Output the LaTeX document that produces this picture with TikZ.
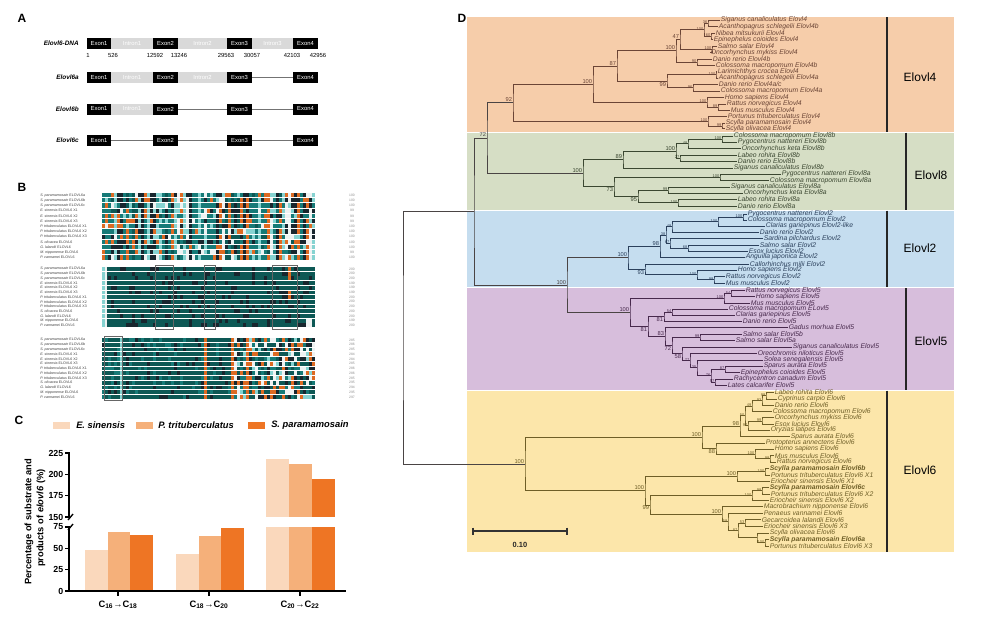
\documentclass[tikz,border=0pt]{standalone}
\usepackage{fontspec}
\setmainfont{Liberation Sans}
\usetikzlibrary{calc}
\definecolor{bOr}{HTML}{F6CDAA}
\definecolor{bGr}{HTML}{D6DEC5}
\definecolor{bBl}{HTML}{C5DDEF}
\definecolor{bPu}{HTML}{D7BEDC}
\definecolor{bYe}{HTML}{FCE6AA}
\definecolor{c4}{HTML}{6B4536}
\definecolor{c8}{HTML}{3B4731}
\definecolor{c2}{HTML}{2B405C}
\definecolor{c5}{HTML}{47294C}
\definecolor{c6}{HTML}{6E5E27}
\definecolor{cR}{HTML}{4A4444}
\definecolor{cE}{HTML}{FAD8BC}
\definecolor{cP}{HTML}{F5B07A}
\definecolor{cS}{HTML}{EE7524}
\definecolor{alT}{HTML}{167A77}
\definecolor{alK}{HTML}{18262E}
\definecolor{alC}{HTML}{86D3D1}
\definecolor{alO}{HTML}{DD6A22}
\definecolor{alW}{HTML}{EEF2F2}
\definecolor{alD}{HTML}{0D5855}
\definecolor{intr}{HTML}{D9D9D9}
\newcommand\tleaf[4]{\coordinate (#1) at (#2,#3);\node[leaftxt,text=\clr] (#1t) at (#1) {#4};}
\newcommand\tnode[6][south east]{%
  \path let \p1=(#4), \p2=(#5) in coordinate (#2) at ({#3*0.75pt},{0.5*(\y1)+0.5*(\y2)});%
  \draw[tedge,draw=\clr] (#4) -| (#2) |- (#5);%
  \node[bsN,text=\clr,anchor=#1] (#2l) at (#2) {#6};}
\newcommand\tnodes[6][east]{%
  \path let \p1=(#4), \p2=(#5) in coordinate (#2) at ({#3*0.75pt},{0.5*(\y1)+0.5*(\y2)});%
  \draw[tedge,draw=\clr] (#4) -| (#2) |- (#5);%
  \node[bsS,text=\clr,anchor=#1] (#2l) at (#2) {#6};}
\def\clr{cR}
\begin{document}
\begin{tikzpicture}[x=0.75pt,y=-0.75pt,
  leaftxt/.style={anchor=west,inner sep=0.45pt,font=\fontsize{5.1}{5.1}\selectfont\itshape},
  bsN/.style={inner sep=0.5pt,font=\fontsize{4.3}{4.3}\selectfont},
  bsS/.style={inner sep=0.35pt,yshift=0.6pt,font=\fontsize{3}{3}\selectfont},
  tedge/.style={line width=0.6pt},
  cbar/.style={line width=1.5pt,draw=black!85},
  clab/.style={font=\fontsize{9}{9}\selectfont},
  plet/.style={font=\fontsize{9}{9}\selectfont\bfseries},
  exon/.style={fill=black,text=white,inner sep=0,outer sep=0,minimum height=8.25pt,font=\fontsize{4.4}{4.4}\selectfont},
  intron/.style={fill=intr,text=white,inner sep=0,outer sep=0,minimum height=8.25pt,font=\fontsize{4.4}{4.4}\selectfont},
  ex1/.style={exon,minimum width=18pt},
  ex/.style={exon,minimum width=18.75pt},
  in1/.style={intron,minimum width=31.5pt},
  in2/.style={intron,minimum width=36.75pt},
  in3/.style={intron,minimum width=30.75pt},
  skip/.style={draw=black!55,line width=0.6pt},
  rowlab/.style={anchor=east,inner sep=0,font=\fontsize{4.8}{4.8}\selectfont\bfseries\itshape},
  numl/.style={inner sep=0,font=\fontsize{4.4}{4.4}\selectfont},
  bname/.style={anchor=west,inner sep=0,text=black!75,font=\fontsize{2.7}{2.7}\selectfont},
  bnum/.style={inner sep=0,text=black!45,font=\fontsize{2.5}{2.5}\selectfont},
  bbox/.style={draw=black!60,line width=0.45pt},
  legt/.style={anchor=west,inner sep=0,font=\fontsize{7}{7}\selectfont\bfseries\itshape},
  axis/.style={line width=1.1pt,line cap=rect},
  tick/.style={anchor=east,inner sep=0,font=\fontsize{6.6}{6.6}\selectfont\bfseries},
  ytit/.style={rotate=90,inner sep=0,font=\fontsize{7}{7}\selectfont\bfseries},
  xlab/.style={inner sep=0,font=\fontsize{7}{7}\selectfont\bfseries}]
\useasboundingbox (0,0) rectangle (1000,618);
\fill[white] (0,0) rectangle (1000,618);
% ---------------- Panel A
\node[plet] (pA) at (22,18) {A};
\node[rowlab] (lD) at (79,43.5) {Elovl6-DNA};
\node[rowlab] (la) at (79,77.5) {Elovl6a};
\node[rowlab] (lb) at (79,109) {Elovl6b};
\node[rowlab] (lc) at (79,140.5) {Elovl6c};
\node[ex1] (xd1) at (99,43.5) {Exon1};
\node[in1] (xdi1) at (132,43.5) {Intron1};
\node[ex] (xd2) at (165.5,43.5) {Exon2};
\node[in2] (xdi2) at (202.5,43.5) {Intron2};
\node[ex] (xd3) at (239.5,43.5) {Exon3};
\node[in3] (xdi3) at (272.5,43.5) {Intron3};
\node[ex] (xd4) at (305.5,43.5) {Exon4};
\foreach \x/\t [count=\i] in {88/1,113/526,155/12592,179/13246,226/29563,252/30057,292/42103,318/42956}
  \node[numl] (nm\i) at (\x,55.5) {\t};
\node[ex1] (xa1) at (99,77.5) {Exon1};
\node[in1] (xai1) at (132,77.5) {Intron1};
\node[ex] (xa2) at (165.5,77.5) {Exon2};
\node[in2] (xai2) at (202.5,77.5) {Intron2};
\node[ex] (xa3) at (239.5,77.5) {Exon3};
\node[ex] (xa4) at (305.5,77.5) {Exon4};
\draw[skip] (xa3) -- (xa4);
\node[ex1] (xb1) at (99,109) {Exon1};
\node[in1] (xbi1) at (132,109) {Intron1};
\node[ex] (xb2) at (165.5,109) {Exon2};
\node[ex] (xb3) at (239.5,109) {Exon3};
\node[ex] (xb4) at (305.5,109) {Exon4};
\draw[skip] (xb2) -- (xb3);
\draw[skip] (xb3) -- (xb4);
\node[ex1] (xc1) at (99,140.5) {Exon1};
\node[ex] (xc2) at (165.5,140.5) {Exon2};
\node[ex] (xc3) at (239.5,140.5) {Exon3};
\node[ex] (xc4) at (305.5,140.5) {Exon4};
\draw[skip] (xc1) -- (xc2);
\draw[skip] (xc2) -- (xc3);
\draw[skip] (xc3) -- (xc4);
% ---------------- Panel B
\node[plet] (pB) at (22,187) {B};
\foreach \ri/\nm in {0/{\textit{S. paramamosain} ELOVL6a},1/{\textit{S. paramamosain} ELOVL6b},2/{\textit{S. paramamosain} ELOVL6c},3/{\textit{E. sinensis} ELOVL6 X1},4/{\textit{E. sinensis} ELOVL6 X2},5/{\textit{E. sinensis} ELOVL6 X3},6/{\textit{P. trituberculatus} ELOVL6 X1},7/{\textit{P. trituberculatus} ELOVL6 X2},8/{\textit{P. trituberculatus} ELOVL6 X3},9/{\textit{S. olivacea} ELOVL6},10/{\textit{G. lalandii} ELOVL6},11/{\textit{M. nipponense} ELOVL6},12/{\textit{P. vannamei} ELOVL6}}{
  \node[bname] (bnA\ri) at (40,{195.1+5.2*\ri}) {\nm};
  \node[bname] (bnB\ri) at (40,{268.9+4.7*\ri}) {\nm};
  \node[bname] (bnC\ri) at (40,{339.9+4.75*\ri}) {\nm};
}
\foreach \ri/\va/\vb/\vc in {0/100/200/285,1/100/200/286,2/100/200/285,3/99/199/284,4/99/199/284,5/99/199/285,6/100/200/286,7/100/200/286,8/100/200/285,9/100/200/295,10/100/200/294,11/99/199/295,12/100/200/297}{
  \node[bnum] (bmA\ri) at (352,{195.1+5.2*\ri}) {\va};
  \node[bnum] (bmB\ri) at (352,{268.9+4.7*\ri}) {\vb};
  \node[bnum] (bmC\ri) at (352,{339.9+4.75*\ri}) {\vc};
}
\pgfmathsetseed{42}
% block 1
\foreach \ci in {0,...,70}{%
  \pgfmathrandominteger{\ct}{0}{19}%
  \foreach \ri in {0,...,12}{%
    \pgfmathrandominteger{\rn}{0}{9}%
    \ifnum\rn<6 \edef\kk{\ct}\else\pgfmathrandominteger{\kk}{0}{19}\fi
    \edef\acol{\ifcase\kk alT\or alT\or alT\or alT\or alT\or alK\or alK\or alK\or alK\or alC\or alC\or alC\or alO\or alO\or alO\or alO\or alW\or alW\or alD\or alD\else alT\fi}%
    \fill[fill=\acol] ({102+3*\ci},{193+5.2*\ri}) rectangle +(3,4.2);%
  }%
}
% block 2
\foreach \ri in {0,...,12}{\fill[alD] (102,{267+4.7*\ri}) rectangle +(213,3.8);}
\foreach \ci in {2,...,70}{\foreach \ri in {0,...,12}{%
   \pgfmathrandominteger{\rn}{0}{9}%
   \ifnum\rn<2 \fill[alK] ({102+3*\ci},{267+4.7*\ri}) rectangle +(3,3.8);\fi}}
\foreach \ri in {0,...,12}{\fill[alC] (102,{267+4.7*\ri}) rectangle +(3,3.8);\fill[alW] (105,{267+4.7*\ri}) rectangle +(2,3.8);}
\foreach \ri in {0,1,2,5,6}{\fill[alO] (288,{267+4.7*\ri}) rectangle +(3,3.8);}
\foreach \ri in {11,12}{\fill[alW] (306,{267+4.7*\ri}) rectangle +(6,3.8);}
\draw[bbox] (155,265.5) rectangle (173,329);
\draw[bbox] (204,265.5) rectangle (215,329);
\draw[bbox] (272,265.5) rectangle (297,329);
% block 3
\foreach \ci in {0,...,70}{%
  \foreach \ri in {0,...,12}{%
    \pgfmathrandominteger{\rn}{0}{19}%
    \ifnum\ci<43
       \ifnum\ci=34 \def\acol{alO}\else
       \ifnum\ci=6 \def\acol{alC}\else
       \ifnum\rn<15 \def\acol{alD}\else\ifnum\rn<18 \def\acol{alT}\else\def\acol{alK}\fi\fi\fi\fi
    \else
       \ifnum\ci=43 \def\acol{alO}\else\ifnum\ci=48 \def\acol{alO}\else
       \edef\acol{\ifcase\rn alD\or alD\or alD\or alD\or alT\or alT\or alO\or alO\or alO\or alK\or alK\or alK\or alC\or alC\or alW\or alW\or alW\or alD\or alO\or alT\else alD\fi}\fi\fi
    \fi
    \fill[fill=\acol] ({102+3*\ci},{338+4.75*\ri}) rectangle +(3,3.8);%
  }%
}
\draw[bbox] (104,336.5) rectangle (122,400);
% ---------------- Panel C
\node[plet] (pC) at (19,420) {C};
\fill[cE] (53,421.5) rectangle (70,428.5);
\node[legt] (lgE) at (76,425) {E. sinensis};
\fill[cP] (136,421.5) rectangle (153,428.5);
\node[legt] (lgP) at (158,425) {P. trituberculatus};
\fill[cS] (248,421.5) rectangle (265,428.5);
\node[legt] (lgS) at (271,425) {S. paramamosain};
\fill[cE] (85,591) rectangle (107.5,550);
\fill[cP] (107.5,591) rectangle (130,532.1);
\fill[cS] (130,591) rectangle (153,534.7);
\fill[cE] (176,591) rectangle (198.5,554.3);
\fill[cP] (198.5,591) rectangle (221,536.4);
\fill[cS] (221,591) rectangle (243.5,527.9);
\fill[cE] (266,591) rectangle (289,527);
\fill[cP] (289,591) rectangle (312,527);
\fill[cS] (312,591) rectangle (334.5,527);
\fill[cE] (266,517) rectangle (289,459);
\fill[cP] (289,517) rectangle (312,464.1);
\fill[cS] (312,517) rectangle (334.5,478.6);
\draw[axis] (69,591) -- (69,527);
\draw[axis] (69,517) -- (69,453);
\draw[line width=1pt] (68,520) -- (73,514);
\draw[line width=1pt] (68,530) -- (73,524);
\foreach \v/\yy in {0/591,25/569.7,50/548.3,75/527,150/517,175/495.7,200/474.3,225/453}{
  \draw[axis] (69,\yy) -- (65.5,\yy);
  \node[tick] (tk\v) at (63.5,\yy) {\v};
}
\draw[axis] (69,591) -- (345,591);
\foreach \x in {118,209,300} \draw[axis] (\x,591) -- (\x,595);
\node[xlab] (xl1) at (118,605) {C\textsubscript{16}→C\textsubscript{18}};
\node[xlab] (xl2) at (209,605) {C\textsubscript{18}→C\textsubscript{20}};
\node[xlab] (xl3) at (300,605) {C\textsubscript{20}→C\textsubscript{22}};
\node[ytit] (yt1) at (29,522) {Percentage of substrate and};
\node[ytit] (yt2) at (41,518) {products of \textit{elovl6} (\%)};
% ---------------- Panel D
\node[plet] (pD) at (462,18) {D};
\fill[bOr] (467,17) rectangle (954,131.5);
\fill[bGr] (467,132.5) rectangle (954,209.5);
\fill[bBl] (467,210.5) rectangle (954,287);
\fill[bPu] (467,288) rectangle (954,389.5);
\fill[bYe] (467,390.5) rectangle (954,552);
\draw[cbar] (887,17) -- (887,131.5);
\draw[cbar] (906,132.5) -- (906,209.5);
\draw[cbar] (887,210.5) -- (887,287);
\draw[cbar] (906,288) -- (906,389.5);
\draw[cbar] (887,390.5) -- (887,552);
\node[clab] (L4) at (920,77) {Elovl4};
\node[clab] (L8) at (931,175) {Elovl8};
\node[clab] (L2) at (920,248) {Elovl2};
\node[clab] (L5) at (931,341) {Elovl5};
\node[clab] (L6) at (920,470) {Elovl6};
% Elovl4
\def\clr{c4}
\tleaf{a1}{720}{20}{Siganus canaliculatus Elovl4}
\tleaf{a2}{718}{26.5}{Acanthopagrus schlegelii Elovl4b}
\tleaf{a3}{715}{33}{Nibea mitsukurii Elovl4}
\tleaf{a4}{713}{39.5}{Epinephelus coioides Elovl4}
\tleaf{a5}{717}{46}{Salmo salar Elovl4}
\tleaf{a6}{710}{52.5}{Oncorhynchus mykiss Elovl4}
\tleaf{a7}{712}{59}{Danio rerio Elovl4b}
\tleaf{a8}{715}{65.5}{Colossoma macropomum Elovl4b}
\tleaf{a9}{717}{71.5}{Larimichthys crocea Elovl4}
\tleaf{a10}{718}{78}{Acanthopagrus schlegelii Elovl4a}
\tleaf{a11}{718}{84.5}{Danio rerio Elovl4a/c}
\tleaf{a12}{720}{91}{Colossoma macropomum Elovl4a}
\tleaf{a13}{724}{97.5}{Homo sapiens Elovl4}
\tleaf{a14}{726}{104}{Rattus norvegicus Elovl4}
\tleaf{a15}{730}{110}{Mus musculus Elovl4}
\tleaf{a16}{727}{116.5}{Portunus trituberculatus Elovl4}
\tleaf{a17}{725}{123}{Scylla paramamosain Elovl4}
\tleaf{a18}{725}{128.8}{Scylla olivacea Elovl4}
\tnodes{b1}{708}{a1}{a2}{36}
\tnodes{b2}{711}{a3}{a4}{60}
\tnodes{b3}{704}{b1}{b2}{100}
\tnodes{b4}{712}{a5}{a6}{100}
\tnode{b5}{680}{b3}{b4}{47}
\tnodes{b6}{697}{a7}{a8}{90}
\tnode{b7}{676}{b5}{b6}{100}
\tnodes{b8}{716}{a9}{a10}{100}
\tnodes{b9}{693}{a11}{a12}{96}
\tnode[north east]{b10}{667}{b8}{b9}{99}
\tnode{b11}{617}{b7}{b10}{87}
\tnodes{b12}{718}{a14}{a15}{89}
\tnodes{b13}{707}{a13}{b12}{100}
\tnode{b14}{593}{b11}{b13}{100}
\tnodes{b15}{722}{a17}{a18}{99}
\tnodes{b16}{708}{a16}{b15}{100}
\tnode{b17}{513}{b14}{b16}{92}
% Elovl8
\def\clr{c8}
\tleaf{g1}{733}{136}{Colossoma macropomum Elovl8b}
\tleaf{g2}{737}{142}{Pygocentrus nattereri Elovl8b}
\tleaf{g3}{741}{148.5}{Oncorhynchus keta Elovl8b}
\tleaf{g4}{737}{155}{Labeo rohita Elovl8b}
\tleaf{g5}{737}{161.5}{Danio rerio Elovl8b}
\tleaf{g6}{733}{168}{Siganus canaliculatus Elovl8b}
\tleaf{g7}{781}{174}{Pygocentrus nattereri Elovl8a}
\tleaf{g8}{769}{180.5}{Colossoma macropomum Elovl8a}
\tleaf{g9}{730}{187}{Siganus canaliculatus Elovl8a}
\tleaf{g10}{743}{193}{Oncorhynchus keta Elovl8a}
\tleaf{g11}{737}{199.5}{Labeo rohita Elovl8a}
\tleaf{g12}{737}{206}{Danio rerio Elovl8a}
\tnodes{h1}{722}{g1}{g2}{100}
\tnodes{h2}{688}{h1}{g3}{48}
\tnodes{h3}{680}{g4}{g5}{27}
\tnode{h4}{676}{h2}{h3}{100}
\tnode{h5}{623}{h4}{g6}{89}
\tnodes{h6}{720}{g7}{g8}{100}
\tnodes{h7}{668}{g9}{g10}{99}
\tnodes{h8}{678}{g11}{g12}{100}
\tnode[north east]{h9}{638}{h7}{h8}{95}
\tnode[north east]{h10}{614}{h6}{h9}{73}
\tnode{h11}{583}{h5}{h10}{100}
% Elovl2
\def\clr{c2}
\tleaf{k1}{747}{214}{Pygocentrus nattereri Elovl2}
\tleaf{k2}{747}{220}{Colossoma macropomum Elovl2}
\tleaf{k3}{765}{226}{Clarias gariepinus Elovl2-like}
\tleaf{k4}{759}{232}{Danio rerio Elovl2}
\tleaf{k5}{763}{238.5}{Sardina pilchardus Elovl2}
\tleaf{k6}{759}{245}{Salmo salar Elovl2}
\tleaf{k7}{748}{251}{Esox lucius Elovl2}
\tleaf{k8}{745}{257}{Anguilla japonica Elovl2}
\tleaf{k9}{749}{264}{Callorhinchus milii Elovl2}
\tleaf{k10}{737}{270}{Homo sapiens Elovl2}
\tleaf{k11}{725}{276.5}{Rattus norvegicus Elovl2}
\tleaf{k12}{725}{283}{Mus musculus Elovl2}
\tnodes{m1}{743}{k1}{k2}{100}
\tnodes{m2}{718}{m1}{k3}{100}
\tnodes{m3}{672}{m2}{k4}{49}
\tnodes{m4}{688}{k6}{k7}{68}
\tnodes{m5}{670}{k5}{m4}{67}
\tnodes{m6}{666}{m3}{m5}{38}
\tnode{m7}{660}{m6}{k8}{98}
\tnodes{m8}{714}{k11}{k12}{99}
\tnodes{m9}{697}{k10}{m8}{100}
\tnode[north east]{m10}{645}{k9}{m9}{93}
\tnode{m11}{628}{m7}{m10}{100}
% Elovl5
\def\clr{c5}
\tleaf{p1}{745}{290.5}{Rattus norvegicus Elovl5}
\tleaf{p2}{755}{296.5}{Homo sapiens Elovl5}
\tleaf{p3}{750}{303}{Mus musculus Elovl5}
\tleaf{p4}{728}{309}{Colossoma macropomum ELovl5}
\tleaf{p5}{735}{315}{Clarias gariepinus Elovl5}
\tleaf{p6}{742}{321.5}{Danio rerio Elovl5}
\tleaf{p7}{788}{327.5}{Gadus morhua Elovl5}
\tleaf{p8}{742}{334}{Salmo salar Elovl5b}
\tleaf{p9}{735}{340.5}{Salmo salar Elovl5a}
\tleaf{p10}{792}{347}{Siganus canaliculatus Elovl5}
\tleaf{p11}{757}{353.5}{Oreochromis niloticus Elovl5}
\tleaf{p12}{763}{360}{Solea senegalensis Elovl5}
\tleaf{p13}{763}{366}{Sparus aurata Elovl5}
\tleaf{p14}{740}{372.5}{Epinephelus coioides Elovl5}
\tleaf{p15}{733}{379}{Rachycentron canadum Elovl5}
\tleaf{p16}{727}{385.5}{Lates calcarifer Elovl5}
\tnodes{q1}{731}{p1}{p2}{54}
\tnodes{q2}{724}{q1}{p3}{100}
\tnodes{q3}{672}{p4}{p5}{54}
\tnode[north east]{q4}{664}{q3}{p6}{81}
\tnodes{q5}{700}{p8}{p9}{99}
\tnodes{q10}{725}{p13}{p14}{87}
\tnodes{q11}{715}{p15}{p16}{57}
\tnodes{q12}{711}{q10}{q11}{76}
\tnodes{q13}{697}{p12}{q12}{35}
\tnodes{q14}{690}{p11}{q13}{77}
\tnode[north east]{q15}{682}{p10}{q14}{58}
\tnode[north east]{q16}{672}{q5}{q15}{72}
\tnode{q17}{665}{p7}{q16}{83}
\tnode[north east]{q18}{648}{q4}{q17}{81}
\tnode{q19}{630}{q2}{q18}{100}
% Elovl6
\def\clr{c6}
\tleaf{r1}{774}{392.5}{Labeo rohita Elovl6}
\tleaf{r2}{777}{399}{Cyprinus carpio Elovl6}
\tleaf{r3}{774}{405.3}{Danio rerio Elovl6}
\tleaf{r4}{772}{411.5}{Colossoma macropomum Elovl6}
\tleaf{r5}{774}{417.8}{Oncorhynchus mykiss Elovl6}
\tleaf{r6}{774}{424}{Esox lucius Elovl6}
\tleaf{r7}{770}{430.2}{Oryzias latipes Elovl6}
\tleaf{r8}{790}{436.5}{Sparus aurata Elovl6}
\tleaf{r9}{765}{443}{Protopterus annectens Elovl6}
\tleaf{r10}{774}{449.2}{Homo sapiens Elovl6}
\tleaf{r11}{774}{455.6}{Mus musculus Elovl6}
\tleaf{r12}{776}{462}{Rattus norvegicus Elovl6}
\tleaf{r13}{769}{468.5}{\bfseries Scylla paramamosain Elovl6b}
\tleaf{r14}{770}{475}{Portunus trituberculatus Elovl6 X1}
\tleaf{r15}{770}{481.3}{Eriocheir sinensis Elovl6 X1}
\tleaf{r16}{769}{487.6}{\bfseries Scylla paramamosain Elovl6c}
\tleaf{r17}{770}{494}{Portunus trituberculatus Elovl6 X2}
\tleaf{r18}{769}{500.3}{Eriocheir sinensis Elovl6 X2}
\tleaf{r19}{763}{506.7}{Macrobrachium nipponense Elovl6}
\tleaf{r20}{763}{513.1}{Penaeus vannamei Elovl6}
\tleaf{r21}{761}{519.6}{Gecarcoidea lalandii Elovl6}
\tleaf{r22}{763}{526.5}{Eriocheir sinensis Elovl6 X3}
\tleaf{r23}{769}{533}{Scylla olivacea Elovl6}
\tleaf{r24}{769}{539.5}{\bfseries Scylla paramamosain Elovl6a}
\tleaf{r25}{769}{546}{Portunus trituberculatus Elovl6 X3}
\tnodes{s1}{766}{r1}{r2}{99}
\tnodes{s2}{762}{s1}{r3}{93}
\tnodes{s3}{752}{s2}{r4}{49}
\tnodes{s4}{762}{r5}{r6}{99}
\tnodes{s5}{748}{s4}{r7}{97}
\tnodes{s6}{745}{s3}{s5}{50}
\tnode{s7}{740}{s6}{r8}{98}
\tnodes{s8}{770}{r11}{r12}{99}
\tnodes{s9}{755}{r10}{s8}{100}
\tnode[north east]{s10}{716}{r9}{s9}{88}
\tnode{s11}{702}{s7}{s10}{100}
\tnodes{s12}{765}{r13}{r14}{100}
\tnode{s13}{737}{s12}{r15}{100}
\tnodes{s14}{762}{r16}{r17}{99}
\tnodes{s15}{752}{s14}{r18}{100}
\tnodes{s21}{745}{r21}{r22}{53}
\tnodes{s23}{765}{r24}{r25}{100}
\tnodes{s22}{757}{r23}{s23}{}
\tnodes{s20}{738}{s21}{s22}{87}
\tnodes{s19}{728}{r20}{s20}{59}
\tnode{s18}{722}{r19}{s19}{100}
\tnode[north east]{s17}{650}{s15}{s18}{99}
\tnode{s16}{645}{s13}{s17}{100}
\tnode{s0}{525}{s11}{s16}{100}
% root
\def\clr{cR}
\tnode{n72}{487}{b17}{h11}{72}
\tnode{e25}{567}{m11}{q19}{100}
\tnode{nA}{474}{n72}{e25}{}
\tnode{root}{403}{nA}{s0}{}
% scale bar
\coordinate (sb1) at (473,531);
\coordinate (sb2) at (567,531);
\draw[line width=0.9pt,draw=black!80] (sb1) -- (sb2);
\draw[line width=0.9pt,draw=black!80] ($(sb1)+(0,-3.5)$) -- ($(sb1)+(0,3.5)$);
\draw[line width=0.9pt,draw=black!80] ($(sb2)+(0,-3.5)$) -- ($(sb2)+(0,3.5)$);
\node[inner sep=0,font=\fontsize{5.6}{5.6}\selectfont\bfseries,text=black!85] (sbl) at (520,545) {0.10};
\end{tikzpicture}
\end{document}
